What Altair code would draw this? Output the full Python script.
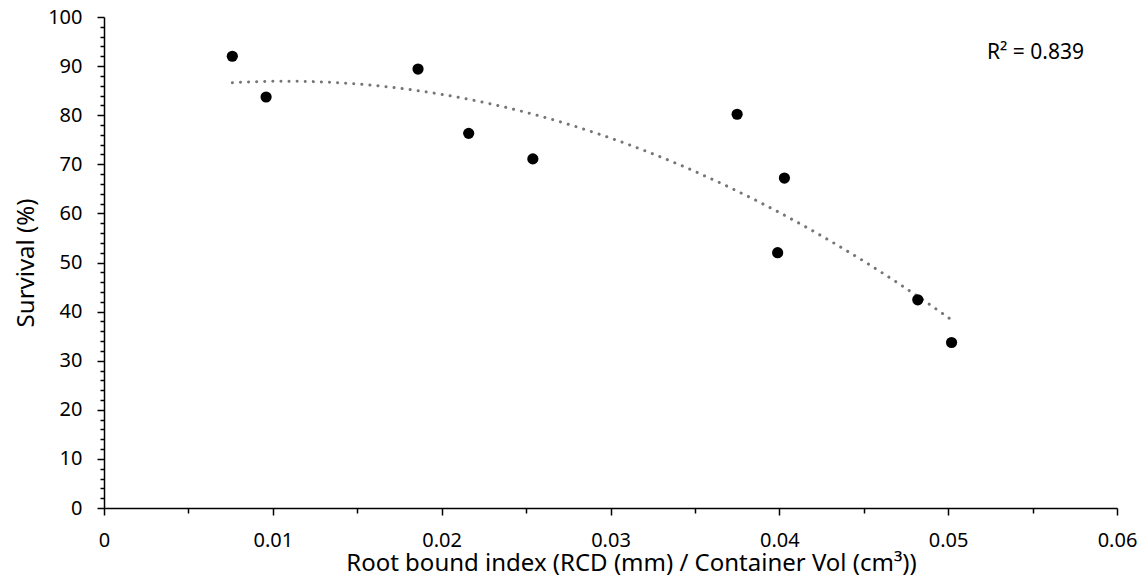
import altair as alt
import pandas as pd

# Data
root_bound_index = [0.0076, 0.0096, 0.0186, 0.0216, 0.0254, 0.0375, 0.0399, 0.0403, 0.0482, 0.0502]
survival = [92.0, 83.7, 89.4, 76.3, 71.1, 80.2, 52.0, 67.2, 42.4, 33.7]

x_ticks = [0, 0.005, 0.01, 0.015, 0.02, 0.025, 0.03, 0.035, 0.04, 0.045, 0.05, 0.055, 0.06]
y_ticks = [0, 2, 4, 6, 8, 10, 12, 14, 16, 18, 20, 22, 24, 26, 28, 30, 32, 34, 36, 38, 40,
           42, 44, 46, 48, 50, 52, 54, 56, 58, 60, 62, 64, 66, 68, 70, 72, 74, 76, 78, 80,
           82, 84, 86, 88, 90, 92, 94, 96, 98, 100]
r2_label = ["R² = 0.839"]

x_title = "Root bound index (RCD (mm) / Container Vol (cm³))"
y_title = "Survival (%)"

df = pd.DataFrame({"x": root_bound_index, "y": survival})

FONT = "Noto Sans"

x_axis = alt.Axis(
    values=x_ticks,
    labelExpr="round(datum.value*200) % 2 == 0 ? format(datum.value, '.2~f') : ''",
    tickSize={"condition": {"test": "round(datum.value*200) % 2 == 0", "value": 7}, "value": 5},
    title=x_title,
    titleX=527,
    titleY=62,
    titleAlign="center",
    titleBaseline="alphabetic",
    labelPadding=15,
    labelFlush=False,
    labelOverlap=False,
    grid=False,
)

y_axis = alt.Axis(
    values=y_ticks,
    labelExpr="datum.value % 10 == 0 ? datum.label : ''",
    tickSize={"condition": {"test": "datum.value % 10 == 0", "value": 7}, "value": 4},
    title=y_title,
    titleX=-71,
    titleY=245.5,
    titleAngle=270,
    titleAlign="center",
    titleBaseline="alphabetic",
    labelPadding=15,
    labelFlush=False,
    labelOverlap=False,
    grid=False,
)

x_scale = alt.Scale(domain=[0, 0.06], nice=False, zero=False)
y_scale = alt.Scale(domain=[0, 100], nice=False)

base = alt.Chart(df)

trend = base.transform_regression("x", "y", method="poly", order=2).mark_line(
    color="#767676", strokeWidth=3, strokeDash=[0.1, 8], strokeCap="round"
).encode(
    x=alt.X("x:Q", scale=x_scale, axis=x_axis),
    y=alt.Y("y:Q", scale=y_scale, axis=y_axis),
)

points = base.mark_circle(size=125, color="black", opacity=1).encode(
    x=alt.X("x:Q", scale=x_scale, axis=x_axis),
    y=alt.Y("y:Q", scale=y_scale, axis=y_axis),
)

label = alt.Chart(pd.DataFrame({"t": r2_label})).mark_text(
    align="left", baseline="alphabetic", fontSize=21, font=FONT, color="black"
).encode(
    x=alt.value(883),
    y=alt.value(42),
    text="t:N",
)

chart = alt.layer(trend, points, label).properties(
    width=1013,
    height=491,
    autosize=alt.AutoSizeParams(type="none"),
    padding={"left": 96, "top": 9, "right": 21, "bottom": 68},
).configure_view(
    stroke=None
).configure_axis(
    domainColor="black",
    domainWidth=1.5,
    tickColor="black",
    tickWidth=1.5,
    labelFont=FONT,
    labelFontSize=20,
    labelColor="black",
    labelOverlap=False,
    titleFont=FONT,
    titleFontSize=24,
    titleFontWeight="normal",
    titleColor="black",
)

chart.save("out.html", embed_options={"renderer": "svg", "actions": False})
